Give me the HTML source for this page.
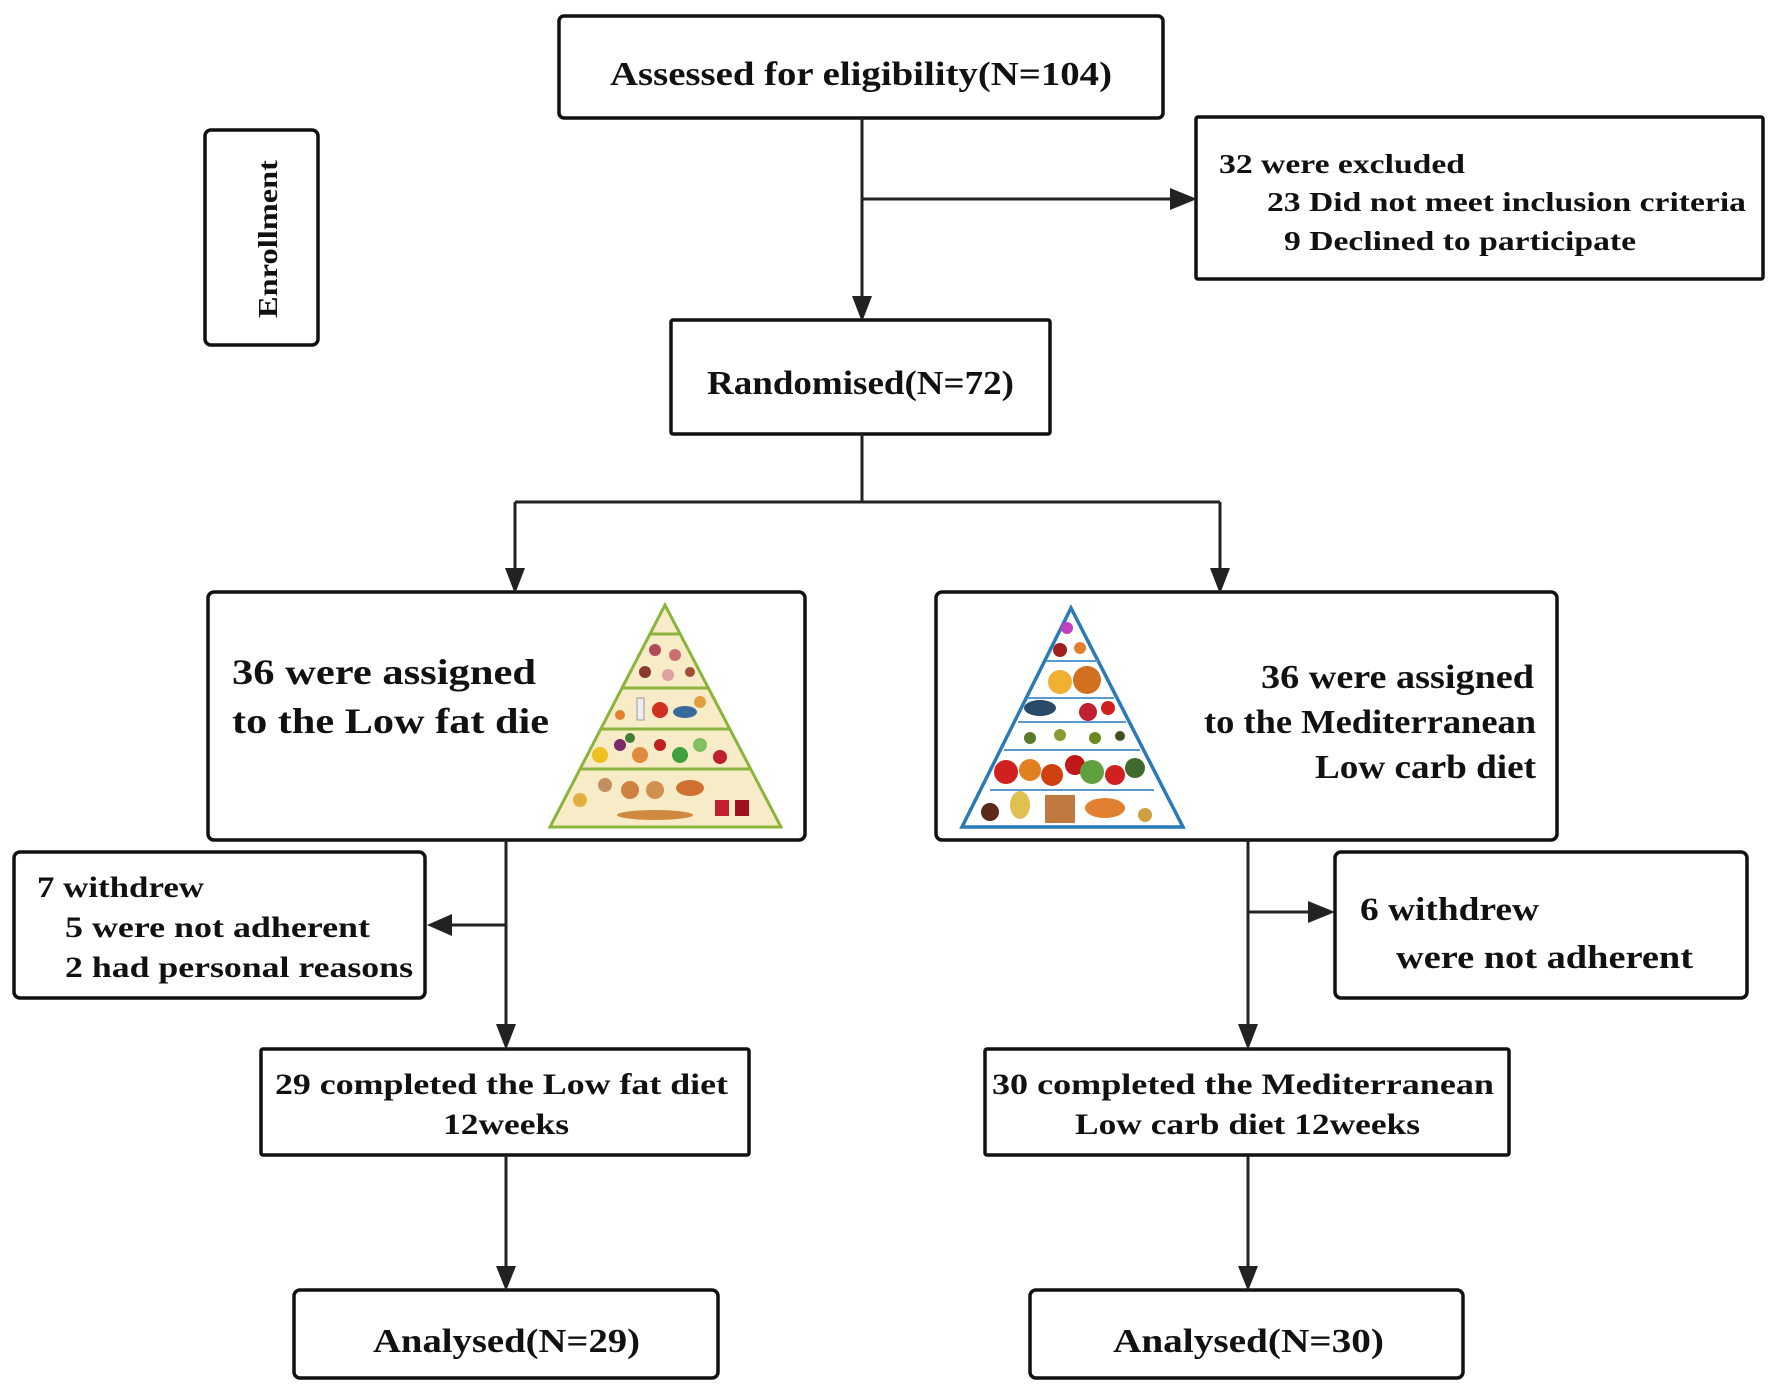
<!DOCTYPE html>
<html><head><meta charset="utf-8"><style>
html,body{margin:0;padding:0;background:#fff;}
svg{display:block;}
text{font-family:"Liberation Serif",serif;font-weight:bold;fill:#111;}
</style></head><body>
<svg width="1772" height="1393" viewBox="0 0 1772 1393" xmlns="http://www.w3.org/2000/svg">
<defs>
<marker id="ah" markerWidth="10" markerHeight="10" refX="9" refY="5" orient="auto" markerUnits="userSpaceOnUse" viewBox="0 0 10 10">
</marker>
</defs>
<g fill="none" stroke="#111" stroke-width="3.5">
<rect x="559" y="16" width="604" height="102" rx="5"/>
<rect x="205" y="130" width="113" height="215" rx="6"/>
<rect x="1196" y="117" width="567" height="162" rx="2"/>
<rect x="671" y="320" width="379" height="114" rx="2"/>
<rect x="208" y="592" width="597" height="248" rx="6"/>
<rect x="936" y="592" width="621" height="248" rx="6"/>
<rect x="14" y="852" width="411" height="146" rx="6"/>
<rect x="1335" y="852" width="412" height="146" rx="6"/>
<rect x="261" y="1049" width="488" height="106" rx="2"/>
<rect x="985" y="1049" width="524" height="106" rx="2"/>
<rect x="294" y="1290" width="424" height="88" rx="6"/>
<rect x="1030" y="1290" width="433" height="88" rx="6"/>
</g>
<g stroke="#222" stroke-width="3" fill="none">
<line x1="862" y1="118" x2="862" y2="300"/>
<line x1="862" y1="199" x2="1175" y2="199"/>
<line x1="862" y1="434" x2="862" y2="502"/>
<line x1="515" y1="502" x2="1220" y2="502"/>
<line x1="515" y1="502" x2="515" y2="572"/>
<line x1="1220" y1="502" x2="1220" y2="572"/>
<line x1="506" y1="840" x2="506" y2="1028"/>
<line x1="506" y1="925" x2="448" y2="925"/>
<line x1="1248" y1="840" x2="1248" y2="1028"/>
<line x1="1248" y1="912" x2="1312" y2="912"/>
<line x1="506" y1="1155" x2="506" y2="1270"/>
<line x1="1248" y1="1155" x2="1248" y2="1270"/>
</g>
<g fill="#222">
<polygon points="852,296 872,296 862,322"/>
<polygon points="1170,188 1170,210 1197,199"/>
<polygon points="505,568 525,568 515,594"/>
<polygon points="1210,568 1230,568 1220,594"/>
<polygon points="496,1024 516,1024 506,1050"/>
<polygon points="452,914 452,936 427,925"/>
<polygon points="1238,1024 1258,1024 1248,1050"/>
<polygon points="1308,901 1308,923 1335,912"/>
<polygon points="496,1266 516,1266 506,1291"/>
<polygon points="1238,1266 1258,1266 1248,1291"/>
</g>
<!-- left pyramid -->
<g>
<polygon points="665,605 550,827 781,827" fill="#f8ecc8" stroke="#8bb43c" stroke-width="3"/>
<g stroke="#8bb43c" stroke-width="3">
<line x1="650" y1="634" x2="680" y2="634"/>
<line x1="622" y1="688" x2="708" y2="688"/>
<line x1="601" y1="729" x2="729" y2="729"/>
<line x1="580" y1="769" x2="750" y2="769"/>
</g>
<g>
<circle cx="655" cy="650" r="6" fill="#b04a5a"/><circle cx="675" cy="655" r="6" fill="#c87070"/><circle cx="645" cy="672" r="6" fill="#8a3a2a"/><circle cx="668" cy="675" r="6" fill="#e0a0a0"/><circle cx="690" cy="672" r="5" fill="#a05030"/>
<rect x="637" y="698" width="7" height="22" fill="#eee" stroke="#999"/><circle cx="660" cy="710" r="8" fill="#d03020"/><ellipse cx="685" cy="712" rx="12" ry="6" fill="#3a6a9a"/><circle cx="700" cy="702" r="6" fill="#e0a040"/><circle cx="620" cy="715" r="5" fill="#e08030"/>
<circle cx="600" cy="755" r="8" fill="#f0c020"/><circle cx="620" cy="745" r="6" fill="#7a2a6a"/><circle cx="640" cy="755" r="8" fill="#e08a40"/><circle cx="660" cy="745" r="6" fill="#c02020"/><circle cx="680" cy="755" r="8" fill="#40a040"/><circle cx="700" cy="745" r="7" fill="#80c060"/><circle cx="720" cy="757" r="7" fill="#c02030"/><circle cx="630" cy="738" r="5" fill="#408030"/>
<circle cx="580" cy="800" r="7" fill="#e0b040"/><circle cx="605" cy="785" r="7" fill="#c09060"/><circle cx="630" cy="790" r="9" fill="#d08040"/><circle cx="655" cy="790" r="9" fill="#d09050"/><ellipse cx="690" cy="788" rx="14" ry="8" fill="#d07030"/><ellipse cx="655" cy="815" rx="38" ry="5" fill="#d08a40"/><rect x="715" y="800" width="14" height="16" fill="#c02030"/><rect x="735" y="800" width="14" height="16" fill="#a01020"/>
</g>
</g>
<!-- right pyramid -->
<g>
<polygon points="1071,608 962,827 1183,827" fill="#fff" stroke="#2a7ab8" stroke-width="3.5"/>
<g stroke="#5a9ad0" stroke-width="2">
<line x1="1046" y1="661" x2="1098" y2="661"/>
<line x1="1028" y1="698" x2="1114" y2="698"/>
<line x1="1018" y1="722" x2="1126" y2="722"/>
<line x1="1004" y1="750" x2="1140" y2="750"/>
<line x1="990" y1="790" x2="1154" y2="790"/>
</g>
<circle cx="1067" cy="628" r="6" fill="#c040c0"/><circle cx="1060" cy="650" r="7" fill="#a02020"/><circle cx="1080" cy="648" r="6" fill="#e08030"/>
<circle cx="1060" cy="682" r="12" fill="#f0b030"/><circle cx="1087" cy="680" r="14" fill="#d07020"/>
<ellipse cx="1040" cy="708" rx="16" ry="8" fill="#2a4a6a"/><circle cx="1088" cy="712" r="9" fill="#c02030"/><circle cx="1108" cy="708" r="7" fill="#d02020"/>
<circle cx="1030" cy="738" r="6" fill="#5a7a2a"/><circle cx="1060" cy="735" r="6" fill="#8a9a30"/><circle cx="1095" cy="738" r="6" fill="#6a8a20"/><circle cx="1120" cy="736" r="5" fill="#405020"/>
<circle cx="1006" cy="772" r="12" fill="#d02020"/><circle cx="1030" cy="770" r="11" fill="#e08020"/><circle cx="1052" cy="775" r="11" fill="#d04010"/><circle cx="1075" cy="765" r="10" fill="#c01818"/><circle cx="1092" cy="772" r="12" fill="#60a040"/><circle cx="1115" cy="775" r="10" fill="#d02020"/><circle cx="1135" cy="768" r="10" fill="#406a30"/>
<circle cx="990" cy="812" r="9" fill="#5a2a1a"/><rect x="1045" y="795" width="30" height="28" fill="#c07a40"/><ellipse cx="1020" cy="805" rx="10" ry="14" fill="#e0c050"/><ellipse cx="1105" cy="808" rx="20" ry="10" fill="#e08030"/><circle cx="1145" cy="815" r="7" fill="#d0a040"/>
</g>
<!-- text -->
<text x="610" y="85" font-size="34" textLength="502" lengthAdjust="spacingAndGlyphs">Assessed for eligibility(N=104)</text>
<text transform="translate(277,318) rotate(-90)" font-size="27" textLength="158" lengthAdjust="spacingAndGlyphs">Enrollment</text>
<text x="1219" y="173" font-size="27" textLength="246" lengthAdjust="spacingAndGlyphs">32 were excluded</text>
<text x="1267" y="211" font-size="27" textLength="479" lengthAdjust="spacingAndGlyphs">23 Did not meet inclusion criteria</text>
<text x="1284" y="250" font-size="27" textLength="352" lengthAdjust="spacingAndGlyphs">9 Declined to participate</text>
<text x="707" y="394" font-size="34" textLength="307" lengthAdjust="spacingAndGlyphs">Randomised(N=72)</text>
<text x="232" y="684" font-size="36" textLength="304" lengthAdjust="spacingAndGlyphs">36 were assigned</text>
<text x="232" y="733" font-size="36" textLength="317" lengthAdjust="spacingAndGlyphs">to the Low fat die</text>
<text x="1261" y="688" font-size="34" textLength="273" lengthAdjust="spacingAndGlyphs">36 were assigned</text>
<text x="1204" y="733" font-size="34" textLength="332" lengthAdjust="spacingAndGlyphs">to the Mediterranean</text>
<text x="1315" y="778" font-size="34" textLength="221" lengthAdjust="spacingAndGlyphs">Low carb diet</text>
<text x="37" y="897" font-size="30" textLength="167" lengthAdjust="spacingAndGlyphs">7 withdrew</text>
<text x="65" y="937" font-size="30" textLength="305" lengthAdjust="spacingAndGlyphs">5 were not adherent</text>
<text x="65" y="977" font-size="30" textLength="348" lengthAdjust="spacingAndGlyphs">2 had personal reasons</text>
<text x="1360" y="920" font-size="33" textLength="179" lengthAdjust="spacingAndGlyphs">6 withdrew</text>
<text x="1396" y="968" font-size="33" textLength="297" lengthAdjust="spacingAndGlyphs">were not adherent</text>
<text x="275" y="1094" font-size="30" textLength="453" lengthAdjust="spacingAndGlyphs">29 completed the Low fat diet</text>
<text x="443" y="1134" font-size="30" textLength="126" lengthAdjust="spacingAndGlyphs">12weeks</text>
<text x="992" y="1094" font-size="30" textLength="502" lengthAdjust="spacingAndGlyphs">30 completed the Mediterranean</text>
<text x="1075" y="1134" font-size="30" textLength="345" lengthAdjust="spacingAndGlyphs">Low carb diet 12weeks</text>
<text x="373" y="1352" font-size="34" textLength="267" lengthAdjust="spacingAndGlyphs">Analysed(N=29)</text>
<text x="1113" y="1352" font-size="34" textLength="271" lengthAdjust="spacingAndGlyphs">Analysed(N=30)</text>
</svg>
</body></html>
